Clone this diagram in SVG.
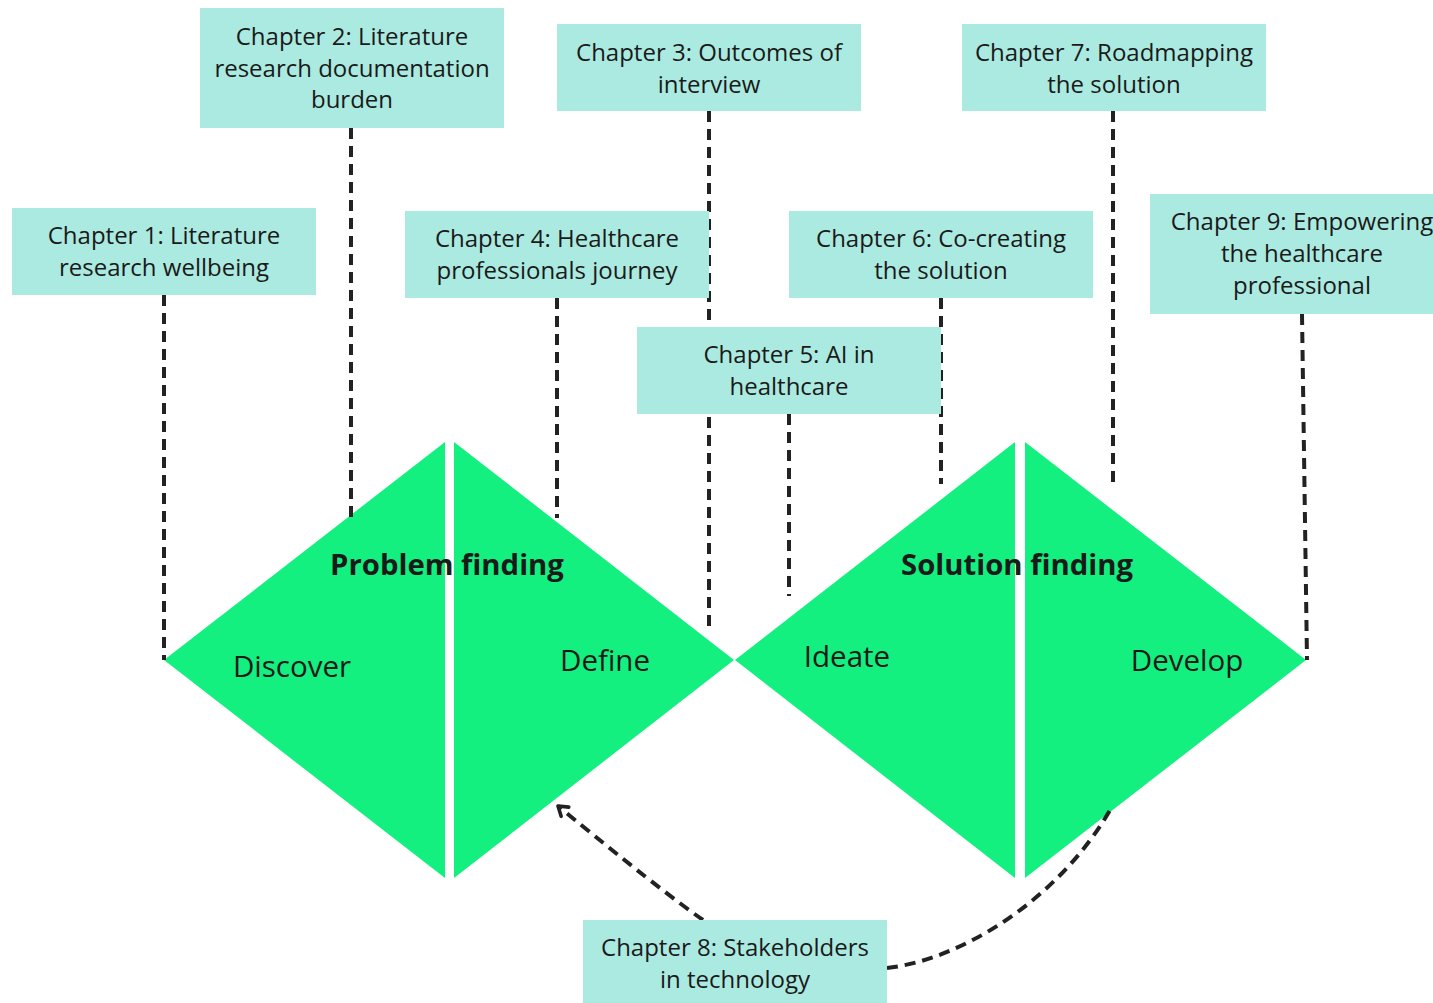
<svg xmlns="http://www.w3.org/2000/svg" width="1433" height="1003" viewBox="0 0 1433 1003">
  <style>
    .box { fill: #abeae0; }
    .lbl { font-family: "Open Sans", "Noto Sans", "Liberation Sans", sans-serif; font-size: 24px; fill: #1a1a1a; text-anchor: middle; }
    .phase { font-family: "Open Sans", "Noto Sans", "Liberation Sans", sans-serif; font-size: 29.5px; fill: #1a1a1a; text-anchor: middle; }
    .title { font-family: "Open Sans", "Noto Sans", "Liberation Sans", sans-serif; font-size: 29.3px; font-weight: bold; fill: #1a1a1a; text-anchor: middle; }
    .tri { fill: #13f07f; }
    .dash { fill: none; stroke: #222; stroke-width: 4; stroke-dasharray: 11 7; }
  </style>
  <defs>
    <marker id="arrow" viewBox="0 0 16 16" refX="13" refY="8" markerWidth="16" markerHeight="16" markerUnits="userSpaceOnUse" orient="auto">
      <polyline points="4,2 13,8 4,14" fill="none" stroke="#222" stroke-width="3.6" stroke-linecap="round" stroke-linejoin="round"/>
    </marker>
  </defs>
  <rect width="1433" height="1003" fill="#fff"/>

  <!-- double diamond -->
  <g id="diamond">
    <polygon id="discover" class="tri" points="164,660 445,442 445,878"/>
    <polygon id="define" class="tri" points="454,442 734,660 454,878"/>
    <polygon id="ideate" class="tri" points="735,660 1015,442 1015,878"/>
    <polygon id="develop" class="tri" points="1025,442 1306,660 1025,878"/>
    <text class="title" x="447" y="575">Problem finding</text>
    <text class="title" x="1017" y="575">Solution finding</text>
    <text class="phase" x="292" y="677">Discover</text>
    <text class="phase" x="605" y="671">Define</text>
    <text class="phase" x="847" y="667">Ideate</text>
    <text class="phase" x="1187" y="671">Develop</text>
  </g>

  <!-- connectors -->
  <g id="connectors">
    <line class="dash" x1="164" y1="295" x2="164" y2="660"/>
    <line class="dash" x1="351" y1="128" x2="351" y2="518"/>
    <line class="dash" x1="709" y1="111" x2="709" y2="630"/>
    <line class="dash" x1="557" y1="298" x2="557" y2="518"/>
    <line class="dash" x1="789" y1="414" x2="789" y2="596"/>
    <line class="dash" x1="941" y1="298" x2="941" y2="484"/>
    <line class="dash" x1="1113" y1="111" x2="1113" y2="484"/>
    <line class="dash" x1="1302" y1="314" x2="1307" y2="660"/>
    <path class="dash" d="M703,920 Q660,890 558,806" marker-end="url(#arrow)"/>
    <path class="dash" d="M887,968 C960,960 1060,900 1113,805"/>
  </g>

  <!-- chapter nodes -->
  <g id="ch1">
    <rect class="box" x="12" y="208" width="304" height="87"/>
    <text class="lbl" x="164" y="244">Chapter 1: Literature</text>
    <text class="lbl" x="164" y="276">research wellbeing</text>
  </g>
  <g id="ch2">
    <rect class="box" x="200" y="8" width="304" height="120"/>
    <text class="lbl" x="352" y="45">Chapter 2: Literature</text>
    <text class="lbl" x="352" y="77">research documentation</text>
    <text class="lbl" x="352" y="108">burden</text>
  </g>
  <g id="ch3">
    <rect class="box" x="557" y="24" width="304" height="87"/>
    <text class="lbl" x="709" y="61">Chapter 3: Outcomes of</text>
    <text class="lbl" x="709" y="93">interview</text>
  </g>
  <g id="ch4">
    <rect class="box" x="405" y="211" width="304" height="87"/>
    <text class="lbl" x="557" y="247">Chapter 4: Healthcare</text>
    <text class="lbl" x="557" y="279">professionals journey</text>
  </g>
  <g id="ch5">
    <rect class="box" x="637" y="327" width="304" height="87"/>
    <text class="lbl" x="789" y="363">Chapter 5: AI in</text>
    <text class="lbl" x="789" y="395">healthcare</text>
  </g>
  <g id="ch6">
    <rect class="box" x="789" y="211" width="304" height="87"/>
    <text class="lbl" x="941" y="247">Chapter 6: Co-creating</text>
    <text class="lbl" x="941" y="279">the solution</text>
  </g>
  <g id="ch7">
    <rect class="box" x="962" y="24" width="304" height="87"/>
    <text class="lbl" x="1114" y="61">Chapter 7: Roadmapping</text>
    <text class="lbl" x="1114" y="93">the solution</text>
  </g>
  <g id="ch8">
    <rect class="box" x="583" y="920" width="304" height="90"/>
    <text class="lbl" x="735" y="956">Chapter 8: Stakeholders</text>
    <text class="lbl" x="735" y="988">in technology</text>
  </g>
  <g id="ch9">
    <rect class="box" x="1150" y="194" width="304" height="120"/>
    <text class="lbl" x="1302" y="230">Chapter 9: Empowering</text>
    <text class="lbl" x="1302" y="262">the healthcare</text>
    <text class="lbl" x="1302" y="294">professional</text>
  </g>
</svg>
